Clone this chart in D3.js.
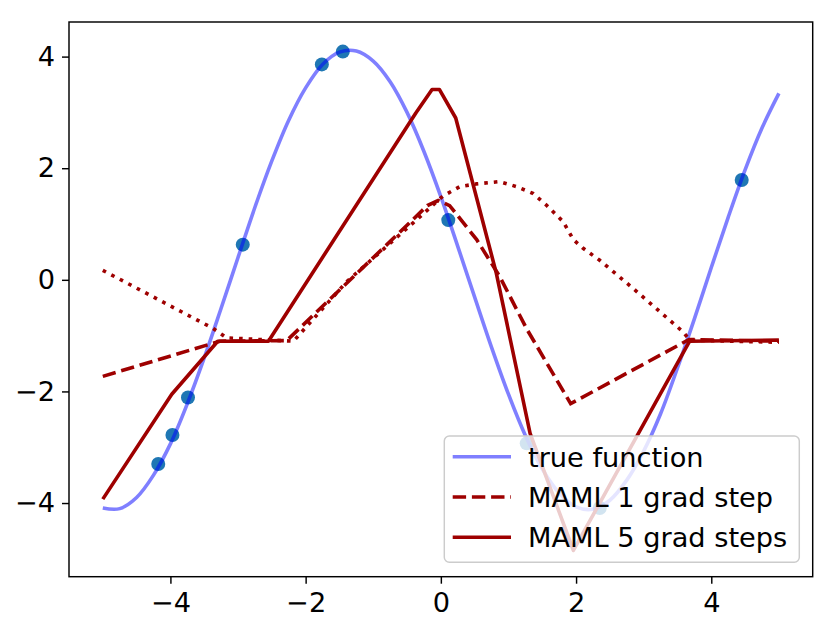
<!DOCTYPE html>
<html lang="en">
<head>
    <meta charset="UTF-8">
    <title>MAML sinusoid</title>
    <style>
        body { margin: 0; background: #fff; }
        text { font-family: "DejaVu Sans", sans-serif; }
    </style>
</head>
<body>
<script src="https://d3js.org/d3.v7.min.js"></script>
<script>
    // Data
    const xTicks = [-4, -2, 0, 2, 4];
    const yTicks = [-4, -2, 0, 2, 4];

    // sampled points (K = 10)
    const sampleX = [-4.18, -3.97, -3.74, -2.93, -1.76, -1.45, 0.11, 1.27, 2.35, 4.45];
    const sampleY = [-3.30, -2.78, -2.11, 0.63, 3.86, 4.09, 1.07, -2.93, -4.09, 1.79];

    // true function, traced every 0.25
    const trueX = [-5, -4.75, -4.5, -4.25, -4, -3.75, -3.5, -3.25, -3, -2.75, -2.5, -2.25, -2,
        -1.75, -1.5, -1.25, -1, -0.75, -0.5, -0.25, 0, 0.25, 0.5, 0.75, 1, 1.25, 1.5, 1.75,
        2, 2.25, 2.5, 2.75, 3, 3.25, 3.5, 3.75, 4, 4.25, 4.5, 4.75, 5];
    const trueY = [-4.09, -4.10, -3.90, -3.50, -2.94, -2.22, -1.40, -0.51, 0.40, 1.30, 2.13, 2.86, 3.44,
        3.86, 4.08, 4.10, 3.92, 3.55, 3.00, 2.30, 1.49, 0.60, -0.31, -1.21, -2.05, -2.79, -3.39, -3.82,
        -4.07, -4.11, -3.95, -3.59, -3.07, -2.40, -1.58, -0.70, 0.22, 1.12, 1.97, 2.72, 3.34];

    // MAML, 1 grad step (dashed)
    const oneStepX = [-5, -3.27, -2.28, -0.61, -0.2, -0.04, 0.13, 0.53, 0.87, 1.27, 1.92, 3.67, 5];
    const oneStepY = [-1.73, -1.10, -1.09, 0.85, 1.33, 1.42, 1.33, 0.72, 0.06, -0.88, -2.22, -1.07, -1.10];

    // MAML, 5 grad steps (solid)
    const fiveStepX = [-5, -3.98, -3.3, -2.55, -0.37, -0.13, -0.02, 0.22, 0.82, 1.32, 1.96, 3.68, 5];
    const fiveStepY = [-3.93, -2.05, -1.10, -1.10, 2.99, 3.41, 3.41, 2.90, 0.12, -2.75, -4.85, -1.10, -1.08];

    // pre-update (dotted, not in legend)
    const preX = [-5, -3.37, -3.17, -2.18, -1.39, -0.41, 0.03, 0.28, 0.53, 0.87, 1.12, 1.36, 1.56,
        1.81, 1.96, 2.10, 2.35, 2.84, 3.21, 3.58, 3.68, 5];
    const preY = [0.17, -0.87, -1.04, -1.10, -0.03, 1.02, 1.50, 1.67, 1.72, 1.76, 1.67, 1.55, 1.34,
        1.04, 0.72, 0.57, 0.35, -0.15, -0.54, -0.93, -1.08, -1.12];

    const legendLabels = ["true function", "MAML 1 grad step", "MAML 5 grad steps"];

    // Set Dimensions
    const width = 836;
    const height = 633;
    const plotLeft = 69, plotRight = 812.7, plotTop = 22, plotBottom = 576.7;
    const red = "#9e0000";
    const lineW = 3.6;
    const fontSize = "27.2px";

    const svg = d3.select("body")
        .append("svg")
        .attr("width", width)
        .attr("height", height);

    const x = d3.scaleLinear().domain([-5.5, 5.5]).range([plotLeft, plotRight]);
    const y = d3.scaleLinear().domain([-5.32, 4.62]).range([plotBottom, plotTop]);

    const zip = (xs, ys) => xs.map((v, i) => [v, ys[i]]);

    // Axes
    const xAxis = svg.append("g")
        .attr("transform", "translate(0," + plotBottom + ")")
        .call(d3.axisBottom(x).tickValues(xTicks).tickSize(7).tickPadding(7));
    const yAxis = svg.append("g")
        .attr("transform", "translate(" + plotLeft + ",0)")
        .call(d3.axisLeft(y).tickValues(yTicks).tickSize(7).tickPadding(7));
    [xAxis, yAxis].forEach(g => {
        g.select(".domain").remove();
        g.selectAll(".tick line").attr("stroke", "#000").attr("stroke-width", 1.45);
        g.selectAll(".tick text")
            .attr("fill", "#000")
            .style("font-size", fontSize)
            .style("font-family", "DejaVu Sans");
    });
    xAxis.selectAll(".tick text").attr("dy", "0.77em");

    // Points
    svg.selectAll("circle.sample")
        .data(zip(sampleX, sampleY))
        .enter()
        .append("circle")
        .attr("class", "sample")
        .attr("cx", d => x(d[0]))
        .attr("cy", d => y(d[1]))
        .attr("r", 7)
        .attr("fill", "#1f77b4");

    // Lines
    const smooth = d3.line().x(d => x(d[0])).y(d => y(d[1])).curve(d3.curveCatmullRom);
    const line = d3.line().x(d => x(d[0])).y(d => y(d[1]));

    svg.append("path")
        .datum(zip(trueX, trueY))
        .attr("fill", "none")
        .attr("stroke", "#0000ff")
        .attr("stroke-opacity", 0.5)
        .attr("stroke-width", lineW)
        .attr("d", smooth);

    svg.append("path")
        .datum(zip(preX, preY))
        .attr("fill", "none")
        .attr("stroke", red)
        .attr("stroke-width", lineW)
        .attr("stroke-dasharray", "3.6,6")
        .attr("d", line);

    svg.append("path")
        .datum(zip(oneStepX, oneStepY))
        .attr("fill", "none")
        .attr("stroke", red)
        .attr("stroke-width", lineW)
        .attr("stroke-dasharray", "13.4,5.8")
        .attr("d", line);

    svg.append("path")
        .datum(zip(fiveStepX, fiveStepY))
        .attr("fill", "none")
        .attr("stroke", red)
        .attr("stroke-width", lineW)
        .attr("stroke-linejoin", "round")
        .attr("d", line);

    // Frame
    svg.append("rect")
        .attr("x", plotLeft)
        .attr("y", plotTop)
        .attr("width", plotRight - plotLeft)
        .attr("height", plotBottom - plotTop)
        .attr("fill", "none")
        .attr("stroke", "#000")
        .attr("stroke-width", 1.45);

    // Legend
    const legend = svg.append("g");
    legend.append("rect")
        .attr("x", 444.3)
        .attr("y", 436)
        .attr("width", 355)
        .attr("height", 126.3)
        .attr("rx", 5)
        .attr("fill", "#fff")
        .attr("fill-opacity", 0.8)
        .attr("stroke", "#cccccc")
        .attr("stroke-width", 1.45);

    const styles = [
        {stroke: "#0000ff", opacity: 0.5, dash: null},
        {stroke: red, opacity: 1, dash: "13.4,5.8"},
        {stroke: red, opacity: 1, dash: null}
    ];
    legendLabels.forEach((label, i) => {
        const ry = 456.7 + i * 40.3;
        legend.append("line")
            .attr("x1", 452.7).attr("x2", 511)
            .attr("y1", ry).attr("y2", ry)
            .attr("stroke", styles[i].stroke)
            .attr("stroke-opacity", styles[i].opacity)
            .attr("stroke-width", lineW)
            .attr("stroke-dasharray", styles[i].dash);
        legend.append("text")
            .attr("x", 528)
            .attr("y", ry)
            .attr("dy", "0.37em")
            .style("font-size", fontSize)
            .attr("fill", "#000")
            .text(label);
    });
</script>
</body>
</html>
